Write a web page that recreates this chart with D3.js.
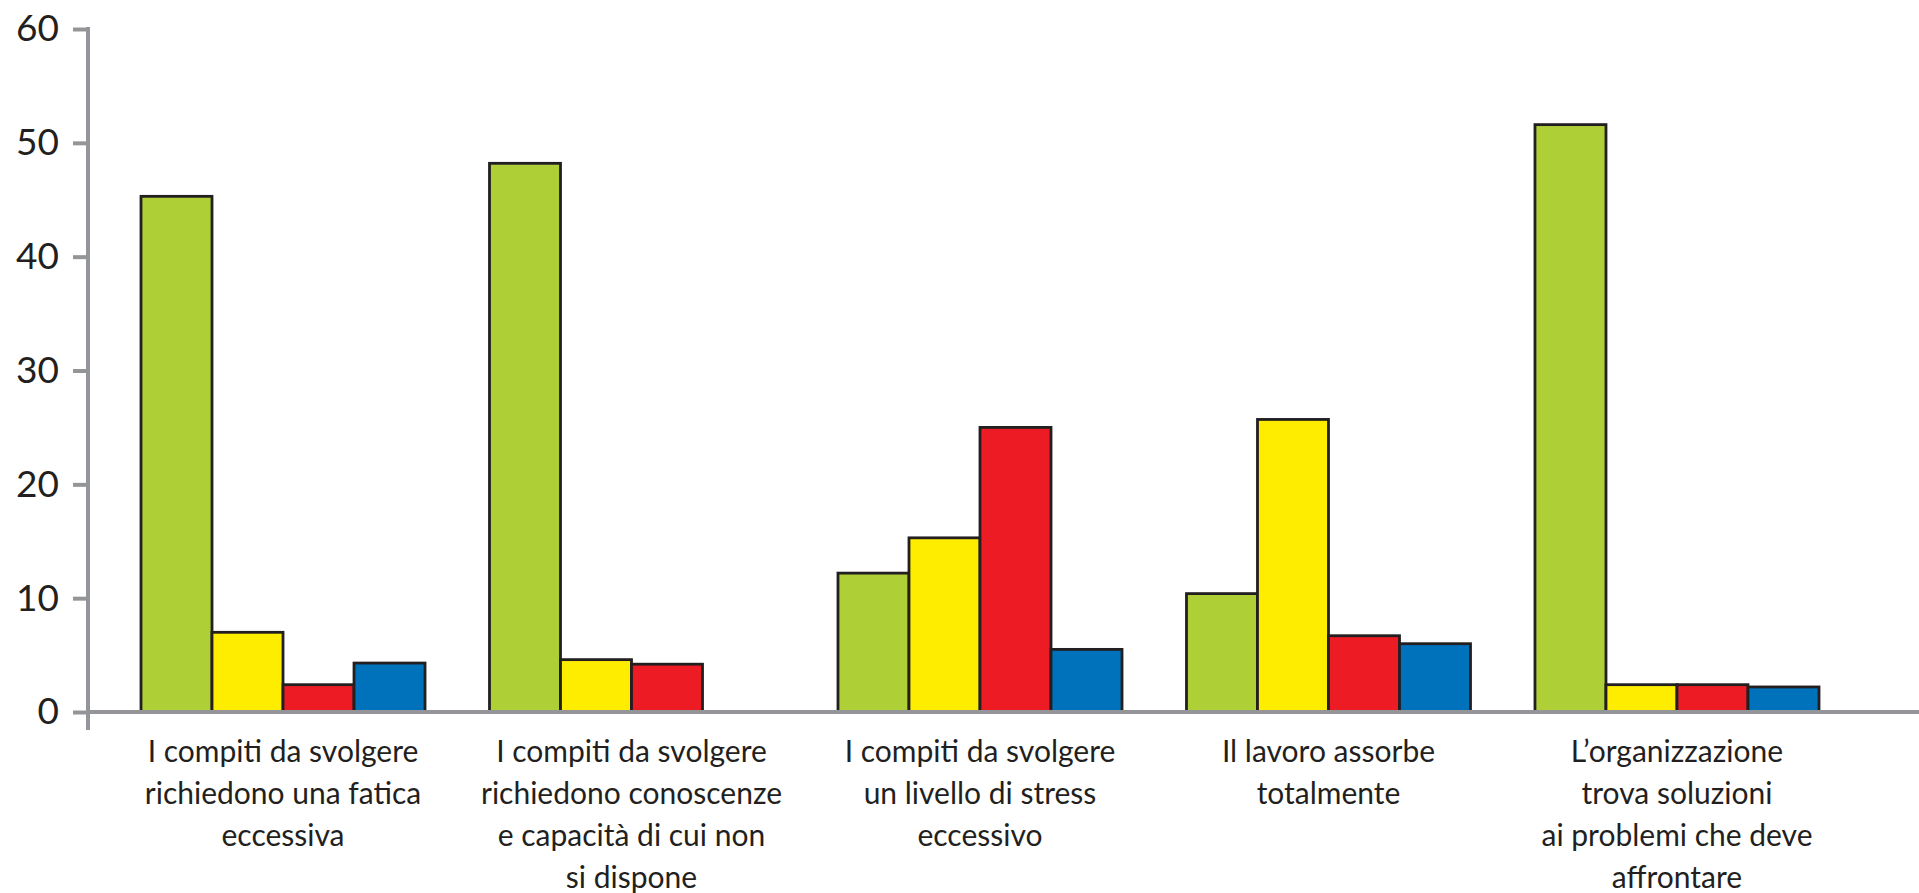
<!DOCTYPE html>
<html>
<head>
<meta charset="utf-8">
<script src="https://cdn.jsdelivr.net/npm/d3@7"></script>
<style>
  body { margin: 0; background: #fff; }
  svg { display: block; }
  text { font-family: Lato, "Open Sans", sans-serif; fill: #231f20; }
</style>
</head>
<body>
<div id="chart"></div>
<script>
// categorie (righe delle etichette)
const categories = [
    ["I compiti da svolgere", "richiedono una fatica", "eccessiva"],
    ["I compiti da svolgere", "richiedono conoscenze", "e capacità di cui non", "si dispone"],
    ["I compiti da svolgere", "un livello di stress", "eccessivo"],
    ["Il lavoro assorbe", "totalmente"],
    ["L\u2019organizzazione", "trova soluzioni", "ai problemi che deve", "affrontare"]
];
const series = ["s1", "s2", "s3", "s4"];
const colors = ["#afcf37", "#ffed00", "#ed1c24", "#0072bc"];
// valori per serie (null = barra assente)
const green = [45.3, 48.2, 12.2, 10.4, 51.6];
const yellow = [7.0, 4.6, 15.3, 25.7, 2.4];
const red = [2.4, 4.2, 25.0, 6.7, 2.4];
const blue = [4.3, null, 5.5, 6.0, 2.2];
const ticks = [0, 10, 20, 30, 40, 50, 60];

const values = [green, yellow, red, blue];
const width = 1919, height = 893;

const svg = d3.select("#chart").append("svg")
    .attr("width", width)
    .attr("height", height);

const x = d3.scaleBand()
    .domain(d3.range(categories.length))
    .range([141, 1819])
    .paddingInner(0.185)
    .paddingOuter(0);

const xs = d3.scaleBand()
    .domain(series)
    .range([0, x.bandwidth()]);

const y = d3.scaleLinear()
    .domain([0, 60])
    .range([712, 29]);

// dati per le barre
const bars = [];
categories.forEach((c, i) => {
    series.forEach((s, j) => {
        if (values[j][i] != null) bars.push({ cat: i, s: s, color: colors[j], v: values[j][i] });
    });
});

svg.append("g")
    .selectAll("rect")
    .data(bars)
    .join("rect")
    .attr("x", d => x(d.cat) + xs(d.s))
    .attr("y", d => y(d.v))
    .attr("width", xs.bandwidth())
    .attr("height", d => y(0) - y(d.v))
    .attr("fill", d => d.color)
    .attr("stroke", "#231f20")
    .attr("stroke-width", 2.8);

// asse y
const yAxis = svg.append("g")
    .attr("transform", "translate(88,0)")
    .call(d3.axisLeft(y).tickValues(ticks).tickSize(15).tickPadding(14));
yAxis.select(".domain").remove();
yAxis.selectAll(".tick line").attr("stroke", "#939598").attr("stroke-width", 4);
yAxis.selectAll(".tick text")
    .attr("fill", "#231f20")
    .style("font-size", "37px")
    .style("font-family", "Lato, sans-serif");

svg.append("line")
    .attr("x1", 88).attr("x2", 88)
    .attr("y1", y(60) - 2).attr("y2", 730)
    .attr("stroke", "#939598")
    .attr("stroke-width", 4);

// linea di base
svg.append("line")
    .attr("x1", 86).attr("x2", width)
    .attr("y1", y(0)).attr("y2", y(0))
    .attr("stroke", "#939598")
    .attr("stroke-width", 4);

// etichette categorie
svg.append("g")
    .selectAll("text")
    .data(categories)
    .join("text")
    .attr("x", (d, i) => x(i) + x.bandwidth() / 2)
    .attr("y", 762)
    .attr("text-anchor", "middle")
    .style("font-size", "30px")
    .selectAll("tspan")
    .data(d => d)
    .join("tspan")
    .attr("x", function () { return d3.select(this.parentNode).attr("x"); })
    .attr("dy", (d, i) => i === 0 ? 0 : 42)
    .text(d => d);
</script>
</body>
</html>
